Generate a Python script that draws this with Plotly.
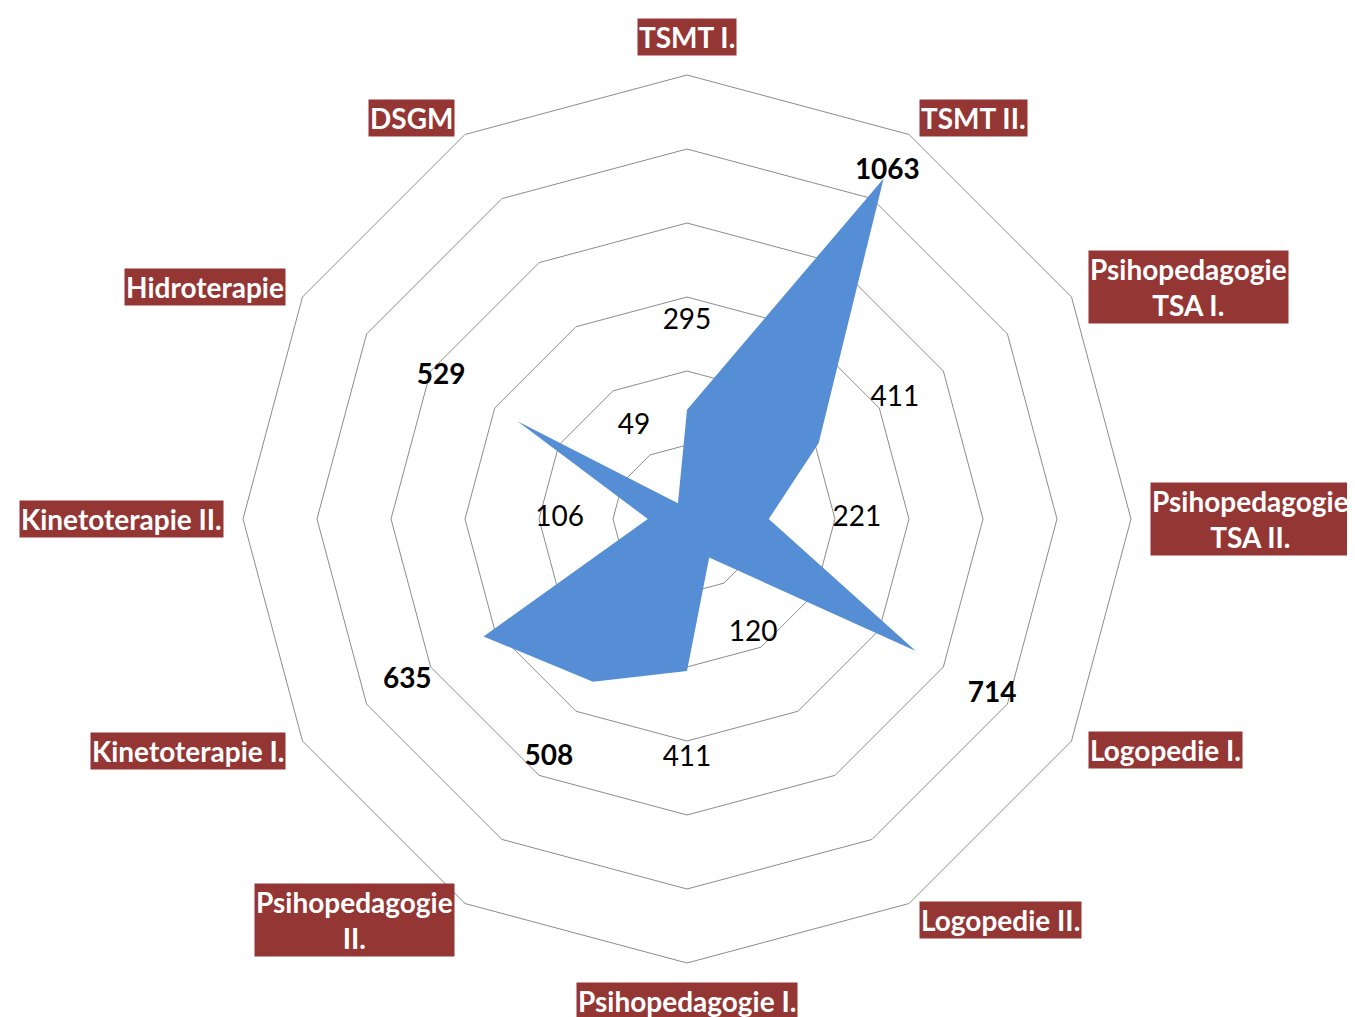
import math
import plotly.graph_objects as go

categories = ["TSMT I.", "TSMT II.", "Psihopedagogie TSA I.", "Psihopedagogie TSA II.",
              "Logopedie I.", "Logopedie II.", "Psihopedagogie I.", "Psihopedagogie II.",
              "Kinetoterapie I.", "Kinetoterapie II.", "Hidroterapie", "DSGM"]
box_labels = ["TSMT I.", "TSMT II.", "Psihopedagogie<br>TSA I.", "Psihopedagogie<br>TSA II.",
              "Logopedie I.", "Logopedie II.", "Psihopedagogie I.", "Psihopedagogie<br>II.",
              "Kinetoterapie I.", "Kinetoterapie II.", "Hidroterapie", "DSGM"]
values = [295, 1063, 411, 221, 714, 120, 411, 508, 635, 106, 529, 49]
bold_labels = [False, True, False, False, True, False, False, True, True, False, True, False]

W, H = 1355, 1017
PAGE_MARGIN = 8                # default body margin of the html page
CX, CY, RPX = 687 - PAGE_MARGIN, 519 - PAGE_MARGIN, 444   # polar centre / outer radius (px)
RMAX = 1200
LABEL_OFFSET = 238             # data-label offset in radial units

fig = go.Figure()

fig.add_trace(go.Scatterpolar(
    r=values + [values[0]], theta=categories + [categories[0]],
    mode="lines", fill="toself", fillcolor="#558ED5",
    line=dict(color="#558ED5", width=0), hoverinfo="skip", showlegend=False))

label_r = [v + LABEL_OFFSET if v + LABEL_OFFSET < RMAX else v + 20 for v in values]
label_text = [f"<b>{v}</b>" if b else str(v) for v, b in zip(values, bold_labels)]
fig.add_trace(go.Scatterpolar(
    r=label_r, theta=categories, mode="text", text=label_text,
    textfont=dict(family="Lato, Carlito, sans-serif", size=28, color="#000000"),
    textposition="middle center", hoverinfo="skip", showlegend=False,
    cliponaxis=False))

fig.update_layout(
    width=W, height=H, margin=dict(l=0, r=0, t=0, b=0),
    paper_bgcolor="white", plot_bgcolor="white", showlegend=False,
    polar=dict(
        domain=dict(x=[(CX - RPX) / W, (CX + RPX) / W],
                    y=[1 - (CY + RPX) / H, 1 - (CY - RPX) / H]),
        bgcolor="white", gridshape="linear",
        radialaxis=dict(range=[0, RMAX], dtick=200, tick0=0, showticklabels=False,
                        ticks="", showline=False, gridcolor="#8c8c8c", gridwidth=1),
        angularaxis=dict(type="category", categoryorder="array", categoryarray=categories,
                         direction="clockwise", rotation=90,
                         showticklabels=False, ticks="", showgrid=False,
                         showline=True, linecolor="#8c8c8c", linewidth=1),
    ),
)

R_LAB = 463
for i, cat in enumerate(box_labels):
    ang = math.radians(i * 360 / len(box_labels))
    s, c = math.sin(ang), math.cos(ang)
    px = CX + R_LAB * s
    py = CY - R_LAB * c
    xa = "left" if s > 0.01 else ("right" if s < -0.01 else "center")
    if abs(s) < 0.01:
        ya = "bottom" if c > 0 else "top"
    else:
        ya = "middle"
    fig.add_annotation(
        x=px / W, y=1 - py / H, xref="paper", yref="paper",
        xanchor=xa, yanchor=ya, showarrow=False,
        text=f"<b>{cat}</b>", align="center",
        font=dict(family="Lato, Carlito, sans-serif", size=28, color="white"),
        bgcolor="#943634", borderpad=1)

fig.write_html("out.html")
